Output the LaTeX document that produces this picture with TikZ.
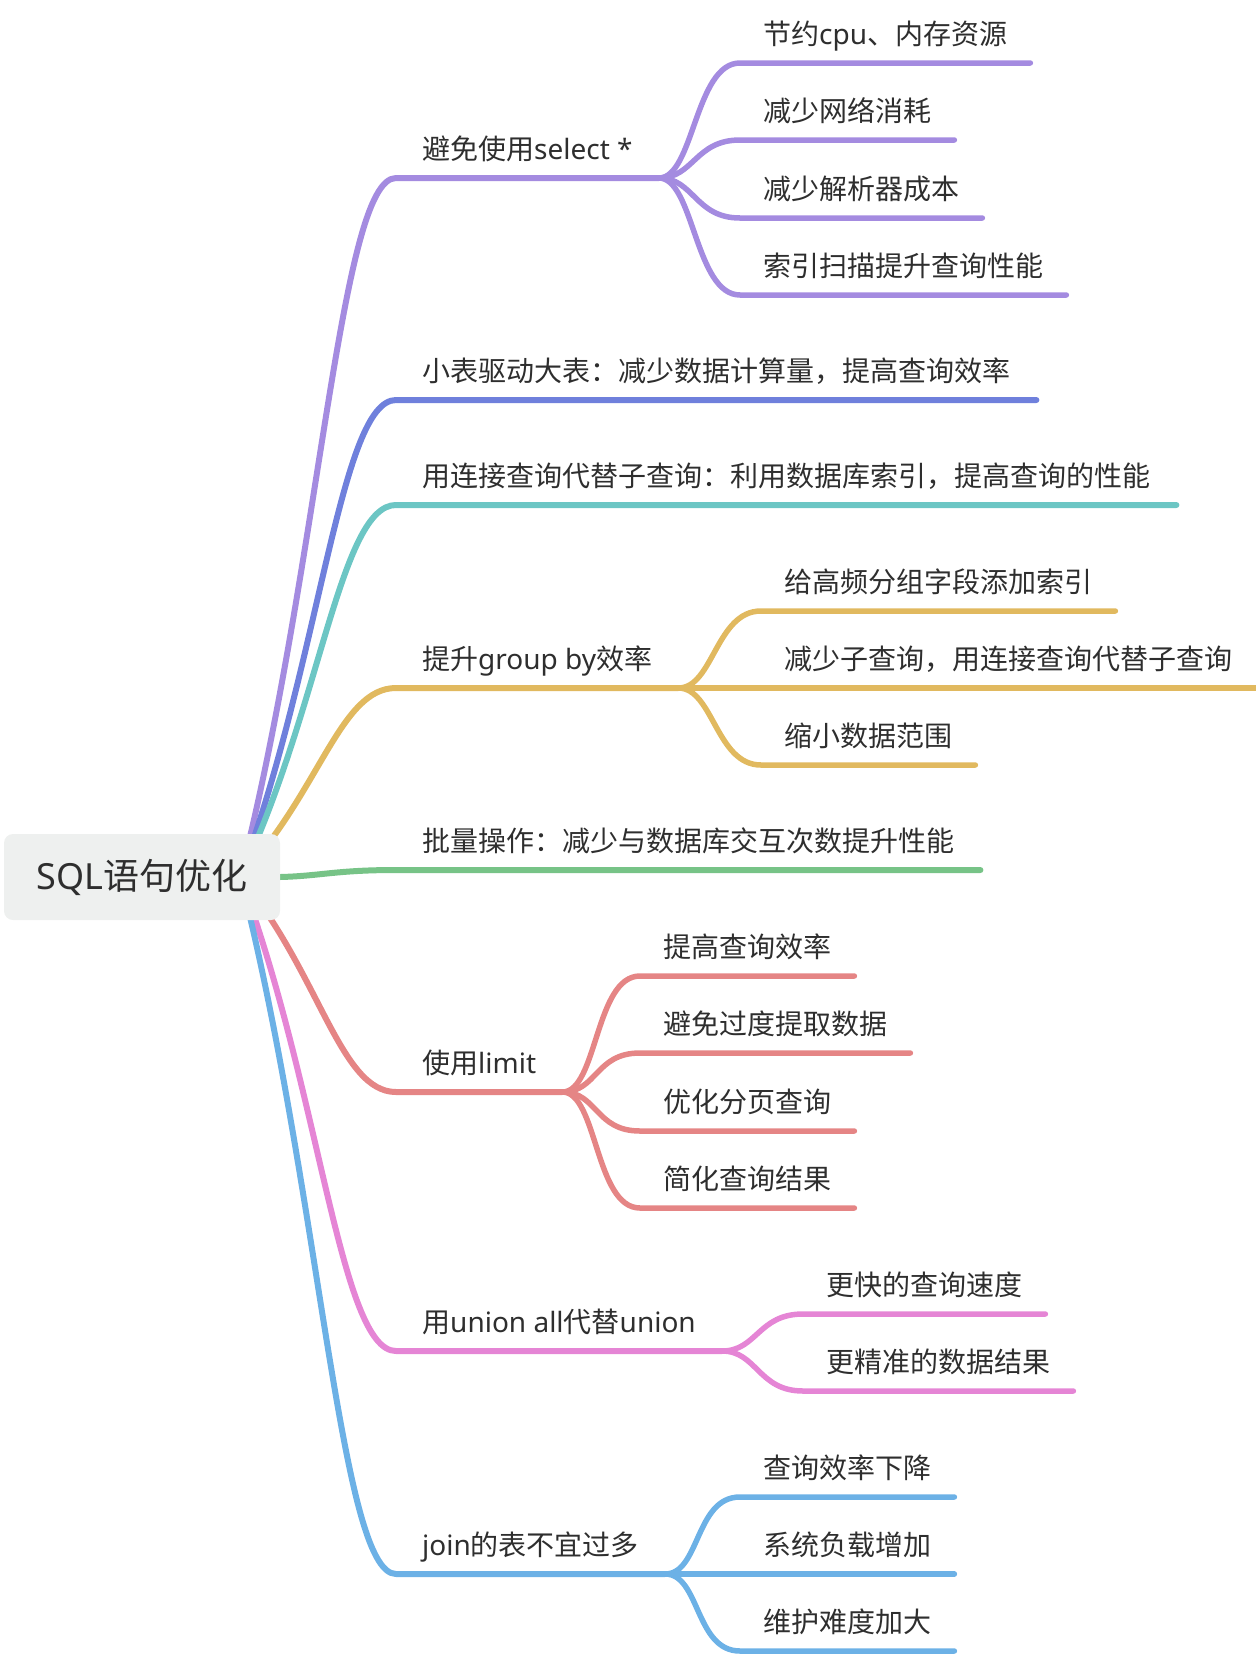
\documentclass[tikz,border=0pt]{standalone}
\usepackage{fontspec}
\setmainfont{Noto Sans CJK SC}
\newfontfamily\latinfont{Noto Sans}
\newcommand{\en}[1]{{\latinfont #1}}
\usetikzlibrary{backgrounds}
\definecolor{rootfill}{HTML}{EEF0EF}
\definecolor{inkgray}{HTML}{2E2E2E}
\definecolor{cpurple}{HTML}{A48BE0}
\definecolor{cblue}{HTML}{6F80DC}
\definecolor{cteal}{HTML}{6CC6C4}
\definecolor{cyellow}{HTML}{E1B95F}
\definecolor{cgreen}{HTML}{77C387}
\definecolor{cred}{HTML}{E58585}
\definecolor{cpink}{HTML}{E585D5}
\definecolor{csky}{HTML}{6CB1E6}
\tikzset{
  rootbox/.style={fill=rootfill, rounded corners=9pt, minimum width=276pt, minimum height=86pt,
    font=\fontsize{36}{40}\selectfont, text=inkgray},
  topic/.style={anchor=south west, inner xsep=26pt, inner ysep=11pt, text height=21pt, text depth=7pt,
    font=\fontsize{28}{32}\selectfont, text=inkgray},
  subtopic/.style={topic, inner xsep=23pt},
  branch/.style={line width=6pt, line cap=round, line join=round},
  twig/.style={branch, line width=5.5pt},
}
\begin{document}
\begin{tikzpicture}[x=1pt, y=-1pt]
  \useasboundingbox (0,0) rectangle (1256,1658);
  % 中心主题
  \node[rootbox] (root) at (142,877) {\en{SQL}语句优化};
  % 主分支
  \node[topic] (b1) at (396,178) {避免使用\en{select *}};
  \node[topic] (b2) at (396,400) {小表驱动大表：减少数据计算量，提高查询效率};
  \node[topic] (b3) at (396,505) {用连接查询代替子查询：利用数据库索引，提高查询的性能};
  \node[topic] (b4) at (396,688) {提升\en{group by}效率};
  \node[topic] (b5) at (396,870) {批量操作：减少与数据库交互次数提升性能};
  \node[topic] (b6) at (396,1092) {使用\en{limit}};
  \node[topic] (b7) at (396,1351) {用\en{union all}代替\en{union}};
  \node[topic] (b8) at (396,1574) {\en{join}的表不宜过多};
  % 子分支
  \node[subtopic] (c11) at (740,63) {节约\en{cpu}、内存资源};
  \node[subtopic] (c12) at (740,140) {减少网络消耗};
  \node[subtopic] (c13) at (740,218) {减少解析器成本};
  \node[subtopic] (c14) at (740,295) {索引扫描提升查询性能};
  \node[subtopic] (c41) at (761,611) {给高频分组字段添加索引};
  \node[subtopic] (c42) at (761,688) {减少子查询，用连接查询代替子查询};
  \node[subtopic] (c43) at (761,765) {缩小数据范围};
  \node[subtopic] (c61) at (640,976) {提高查询效率};
  \node[subtopic] (c62) at (640,1053) {避免过度提取数据};
  \node[subtopic] (c63) at (640,1131) {优化分页查询};
  \node[subtopic] (c64) at (640,1208) {简化查询结果};
  \node[subtopic] (c71) at (803,1314) {更快的查询速度};
  \node[subtopic] (c72) at (803,1391) {更精准的数据结果};
  \node[subtopic] (c81) at (740,1497) {查询效率下降};
  \node[subtopic] (c82) at (740,1574) {系统负载增加};
  \node[subtopic] (c83) at (740,1651) {维护难度加大};
  % 连线
  \begin{scope}[on background layer]
    \coordinate (hub) at ([xshift=-40pt]root.east);
    \draw[branch,cpurple] (hub) .. controls +(80,-315) and +(-56,0) .. (b1.south west) -- (b1.south east);
    \draw[branch,cblue] (hub) .. controls +(80,-215) and +(-56,0) .. (b2.south west) -- (b2.south east);
    \draw[branch,cteal] (hub) .. controls +(80,-167) and +(-56,0) .. (b3.south west) -- (b3.south east);
    \draw[branch,cyellow] (hub) .. controls +(80,-85) and +(-56,0) .. (b4.south west) -- (b4.south east);
    \draw[branch,cgreen] (root.east) .. controls +(40,-1) and +(-60,0) .. (b5.south west) -- (b5.south east);
    \draw[branch,cred] (hub) .. controls +(80,97) and +(-56,0) .. (b6.south west) -- (b6.south east);
    \draw[branch,cpink] (hub) .. controls +(80,213) and +(-56,0) .. (b7.south west) -- (b7.south east);
    \draw[branch,csky] (hub) .. controls +(80,314) and +(-56,0) .. (b8.south west) -- (b8.south east);
    \foreach \c in {c11,c12,c13,c14}
      \draw[twig,cpurple] (b1.south east) .. controls +(35,0) and +(-45,0) .. (\c.south west) -- (\c.south east);
    \foreach \c in {c41,c42,c43}
      \draw[twig,cyellow] (b4.south east) .. controls +(35,0) and +(-45,0) .. (\c.south west) -- (\c.south east);
    \foreach \c in {c61,c62,c63,c64}
      \draw[twig,cred] (b6.south east) .. controls +(35,0) and +(-45,0) .. (\c.south west) -- (\c.south east);
    \foreach \c in {c71,c72}
      \draw[twig,cpink] (b7.south east) .. controls +(35,0) and +(-45,0) .. (\c.south west) -- (\c.south east);
    \foreach \c in {c81,c82,c83}
      \draw[twig,csky] (b8.south east) .. controls +(35,0) and +(-45,0) .. (\c.south west) -- (\c.south east);
  \end{scope}
\end{tikzpicture}
\end{document}
